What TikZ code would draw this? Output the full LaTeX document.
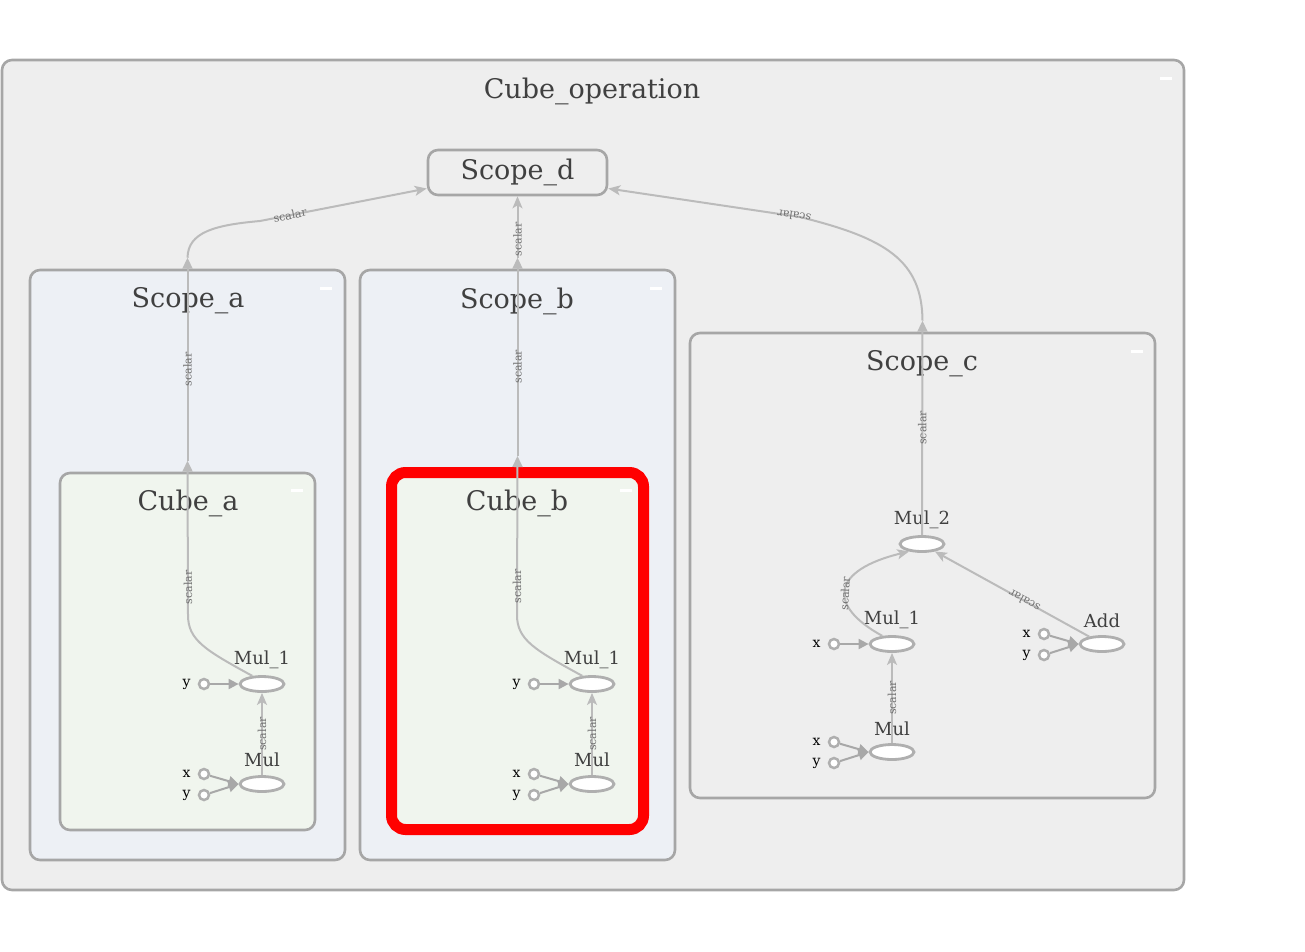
\documentclass[tikz,border=0pt]{standalone}
\usepackage{fontspec}
\setmainfont{DejaVu Serif}
\usetikzlibrary{arrows.meta,positioning,shapes.geometric}
\definecolor{FrameGray}{HTML}{A6A6A6}
\definecolor{OuterFill}{HTML}{EEEEEE}
\definecolor{ScopeFill}{HTML}{EDF0F5}
\definecolor{CubeFill}{HTML}{F0F5EE}
\definecolor{TitleText}{HTML}{404040}
\definecolor{EdgeGray}{HTML}{BBBBBB}
\definecolor{FeedGray}{HTML}{A8A8A8}
\definecolor{LabelGray}{HTML}{707070}
\definecolor{HiRed}{HTML}{FF0000}
\tikzset{
  grp/.style={rectangle,rounded corners=10pt,draw=FrameGray,line width=2.6pt,
              fill=#1,inner sep=0pt},
  ttl/.style={font=\fontsize{27}{30}\selectfont,text=TitleText},
  op/.style={ellipse,draw=FrameGray!90,line width=2.8pt,fill=white,
             minimum width=44pt,minimum height=15pt,inner sep=0pt},
  port/.style={circle,draw=FrameGray!90,line width=2.5pt,fill=white,
               minimum size=10pt,inner sep=0pt},
  oplbl/.style={font=\fontsize{18}{20}\selectfont,text=TitleText},
  portlbl/.style={font=\fontsize{14}{15}\selectfont,inner sep=0pt},
  minus/.style={rectangle,fill=white,minimum width=12pt,minimum height=3pt,inner sep=0pt},
  flow/.style={draw=EdgeGray,line width=2pt,-{Stealth[length=12pt,width=10pt,inset=3pt]}},
  bridge/.style={draw=EdgeGray,line width=2pt,-{Triangle[length=11pt,width=10pt]}},
  feed/.style={draw=FeedGray,line width=2pt,-{Triangle[length=10pt,width=10pt]}},
  elbl/.style={font=\fontsize{11}{12}\selectfont,text=LabelGray,sloped,
               allow upside down,inner sep=1pt},
}

\begin{document}
\begin{tikzpicture}[x=1pt,y=-1pt]
  \useasboundingbox (0,0) rectangle (1305,951);

  \node[grp=OuterFill,minimum width=1182pt,minimum height=830pt] (cubeop) at (593,475) {};
  \node[ttl] (cubeopttl) at (592,91) {Cube\_operation};
  \node[minus] (cubeopmin) at (1166,78) {};

  \node[grp=OuterFill,ttl,minimum width=179pt,minimum height=45pt] (scoped) at (517.5,172.5) {Scope\_d};

  % Scope_a
  \node[grp=ScopeFill,minimum width=315pt,minimum height=590pt] (scopea) at (187.5,565) {};
  \node[ttl] (scopeattl) at (188,301) {Scope\_a};
  \node[minus] (scopeamin) at (326,288) {};

  \node[grp=CubeFill,minimum width=255pt,minimum height=357pt] (cubea) at (187.5,651.5) {};
  \node[ttl] (cubeattl) at (188,503) {Cube\_a};
  \node[minus] (cubeamin) at (297,490) {};

  \node[op] (mula) at (262,784) {};
  \node[oplbl] (mulalbl) at (262,760) {Mul};
  \node[op] (mul1a) at (262,684) {};
  \node[oplbl] (mul1albl) at (262,660) {Mul\_1};
  \node[port] (xa0) at (204,774) {};
  \node[port] (ya0) at (204,795) {};
  \node[port] (ya1) at (204,684) {};
  \node[portlbl,left=7pt of xa0] (xa0lbl) {x};
  \node[portlbl,left=7pt of ya0] (ya0lbl) {y};
  \node[portlbl,left=7pt of ya1] (ya1lbl) {y};

  \coordinate (cubeaout) at ([yshift=11pt]cubea.north);
  \coordinate (scopeaout) at ([yshift=11pt]scopea.north);
  \draw[feed] (xa0) -- (mula.west);
  \draw[feed] (ya0) -- (mula.west);
  \draw[feed] (ya1) -- (mul1a);
  \draw[flow] (mula) -- node[elbl] {scalar} (mul1a);
  \draw[bridge] (mul1a.140) .. controls (205,650) and (188,640) .. (188,615)
    -- node[elbl,pos=0.18] {scalar} (cubeaout);
  \draw[bridge] (cubeaout) -- node[elbl,pos=0.45] {scalar} (scopeaout);
  \draw[flow] (scopeaout) .. controls (188,232) and (215,225) .. (260,221)
    -- node[elbl,pos=0.18] {scalar} (scoped.190);

  % Scope_b
  \node[grp=ScopeFill,minimum width=315pt,minimum height=590pt] (scopeb) at (517.5,565) {};
  \node[ttl] (scopebttl) at (517,301) {Scope\_b};
  \node[minus] (scopebmin) at (656,288) {};

  \node[grp=CubeFill,draw=HiRed,line width=11pt,rounded corners=14pt,
        minimum width=252pt,minimum height=357pt] (cubeb) at (517.5,651) {};
  \node[ttl] (cubebttl) at (517,503) {Cube\_b};
  \node[minus] (cubebmin) at (626,490) {};

  \node[op] (mulb) at (592,784) {};
  \node[oplbl] (mulblbl) at (592,760) {Mul};
  \node[op] (mul1b) at (592,684) {};
  \node[oplbl] (mul1bblbl) at (592,660) {Mul\_1};
  \node[port] (xb0) at (534,774) {};
  \node[port] (yb0) at (534,795) {};
  \node[port] (yb1) at (534,684) {};
  \node[portlbl,left=7pt of xb0] (xb0lbl) {x};
  \node[portlbl,left=7pt of yb0] (yb0lbl) {y};
  \node[portlbl,left=7pt of yb1] (yb1lbl) {y};

  \coordinate (cubebout) at ([yshift=11pt]cubeb.north);
  \coordinate (scopebout) at ([yshift=11pt]scopeb.north);
  \draw[feed] (xb0) -- (mulb.west);
  \draw[feed] (yb0) -- (mulb.west);
  \draw[feed] (yb1) -- (mul1b);
  \draw[flow] (mulb) -- node[elbl] {scalar} (mul1b);
  \draw[bridge] (mul1b.140) .. controls (535,650) and (517,640) .. (517,615)
    -- node[elbl,pos=0.18] {scalar} (cubebout);
  \draw[bridge] (cubebout) -- node[elbl,pos=0.45] {scalar} (scopebout);
  \draw[flow] (scopebout) -- node[elbl,pos=0.3] {scalar} (scoped.south);

  % Scope_c
  \node[grp=OuterFill,minimum width=465pt,minimum height=465pt] (scopec) at (922.5,565.5) {};
  \node[ttl] (scopecttl) at (922,364) {Scope\_c};
  \node[minus] (scopecmin) at (1137,351) {};

  \node[op] (mulc) at (892,752) {};
  \node[oplbl] (mulclbl) at (892,729) {Mul};
  \node[op] (mul1c) at (892,644) {};
  \node[oplbl] (mul1clbl) at (892,620) {Mul\_1};
  \node[op] (addc) at (1102,644) {};
  \node[oplbl] (addclbl) at (1102,621) {Add};
  \node[op] (mul2c) at (922,544) {};
  \node[oplbl] (mul2clbl) at (922,520) {Mul\_2};
  \node[port] (xc0) at (834,742) {};
  \node[port] (yc0) at (834,763) {};
  \node[port] (xc1) at (834,644) {};
  \node[port] (xca) at (1044,634) {};
  \node[port] (yca) at (1044,655) {};
  \node[portlbl,left=7pt of xc0] (xc0lbl) {x};
  \node[portlbl,left=7pt of yc0] (yc0lbl) {y};
  \node[portlbl,left=7pt of xc1] (xc1lbl) {x};
  \node[portlbl,left=7pt of xca] (xcalbl) {x};
  \node[portlbl,left=7pt of yca] (ycalbl) {y};

  \coordinate (scopecout) at ([yshift=11pt]scopec.north);
  \draw[feed] (xc0) -- (mulc.west);
  \draw[feed] (yc0) -- (mulc.west);
  \draw[feed] (xc1) -- (mul1c);
  \draw[feed] (xca) -- (addc.west);
  \draw[feed] (yca) -- (addc.west);
  \draw[flow] (mulc) -- node[elbl] {scalar} (mul1c);
  \draw[flow] (mul1c.140) .. controls (826,605) and (832,570) .. node[elbl,pos=0.45] {scalar} (mul2c.-150);
  \draw[flow] (addc.150) -- node[elbl,pos=0.42] {scalar} (mul2c.-30);
  \draw[bridge] (mul2c) -- node[elbl] {scalar} (scopecout);
  \draw[flow] (scopecout) .. controls (922,260) and (885,238) .. (800,217)
    -- node[elbl,pos=0.03] {scalar} (scoped.-10);

\end{tikzpicture}
\end{document}
